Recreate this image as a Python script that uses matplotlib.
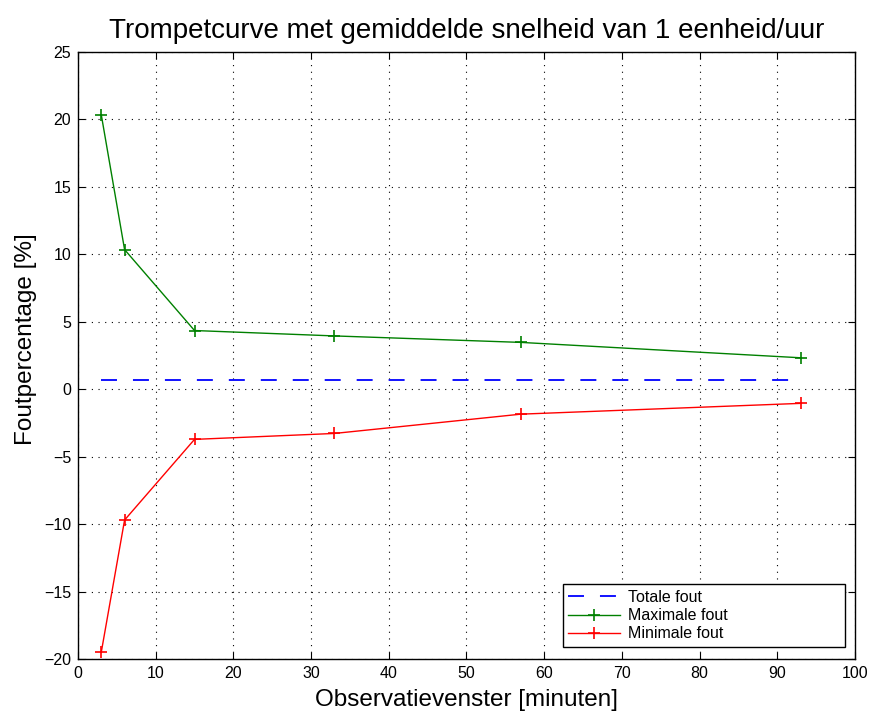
import matplotlib
matplotlib.use("Agg")
import matplotlib.pyplot as plt

plt.rcParams['font.family'] = ['Liberation Sans', 'DejaVu Sans']

x_window = [3, 6, 15, 33, 57, 93]
max_fout = [20.35, 10.35, 4.35, 3.95, 3.47, 2.33]
min_fout = [-19.5, -9.7, -3.72, -3.28, -1.85, -1.05]
totale_fout = [0.65, 0.65]
totale_x = [3, 93]

fig = plt.figure(figsize=(8.72, 7.18), dpi=100)
ax = fig.add_axes([0.0894, 0.0822, 0.8911, 0.8454])

ax.plot(totale_x, totale_fout, color='blue', linestyle=(0, (8.85, 8.85)), linewidth=1.3, label='Totale fout')
ax.plot(x_window, max_fout, color='green', marker='+', markersize=9, markeredgewidth=1.2, linewidth=1.0, label='Maximale fout')
ax.plot(x_window, min_fout, color='red', marker='+', markersize=9, markeredgewidth=1.2, linewidth=1.0, label='Minimale fout')

ax.set_xlim(0, 100)
ax.set_ylim(-20, 25)
ax.set_xticks(range(0, 101, 10))
ax.set_yticks(range(-20, 26, 5))
ax.set_yticklabels([str(v).replace('-', '\u2212') for v in range(-20, 26, 5)])
ax.tick_params(direction='in', length=5, labelsize=11.5, top=True, right=True, pad=5)
ax.grid(True, color='black', linestyle=(0, (1, 5)), linewidth=0.8)
for s in ax.spines.values():
    s.set_linewidth(1.0)

ax.set_title('Trompetcurve met gemiddelde snelheid van 1 eenheid/uur', fontsize=20, pad=10)
ax.set_xlabel('Observatievenster [minuten]', fontsize=17.5, labelpad=6)
ax.set_ylabel('Foutpercentage [%]', fontsize=17.5)
ax.yaxis.set_label_coords(-0.053, 0.527)

leg = ax.legend(loc='lower left', bbox_to_anchor=(0.624, 0.0198, 0.363, 0.109), mode='expand',
                fontsize=11.5, fancybox=False, edgecolor='black', borderaxespad=0,
                framealpha=1, handlelength=3.2, labelspacing=0.2,
                borderpad=0.35, handletextpad=0.5)
leg.get_frame().set_linewidth(1.0)

fig.savefig('out.png', dpi=100)
